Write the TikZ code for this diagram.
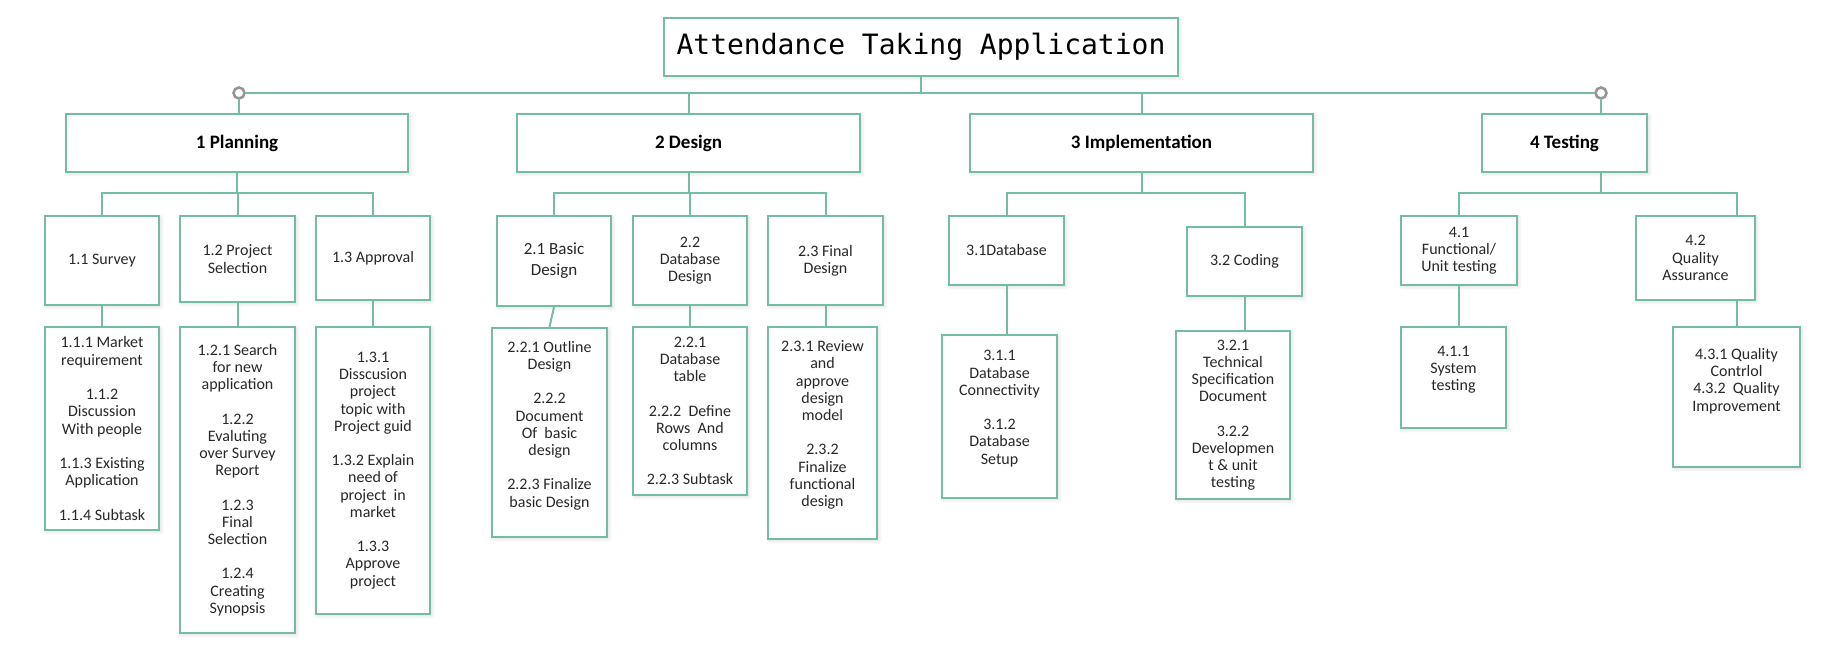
\documentclass[tikz,border=0pt]{standalone}
\usepackage{fontspec}
\setmainfont{Carlito}
\newfontfamily\titlefont{DejaVu Sans Mono}
\usepackage{xcolor}
\usetikzlibrary{positioning, calc, shadows.blur}
\definecolor{wbsline}{RGB}{115,190,163}
\definecolor{knobclr}{RGB}{150,150,150}
\definecolor{wbstext}{RGB}{40,40,40}
\tikzset{
    sz/.style n args={2}{minimum width=#1*0.5pt, minimum height=#2*0.5pt},
}

\begin{document}
\begin{tikzpicture}[
    x=0.5pt, y=-0.5pt,
    font=\fontsize{8}{8.6}\selectfont,
    % --- node styles ---
    wbsbox/.style ={draw=wbsline, line width=1.2pt, fill=white, align=center,
                    inner sep=2pt, text=wbstext,
                    blur shadow={shadow blur steps=3, shadow xshift=0.8pt,
                    shadow yshift=-0.8pt, shadow opacity=15}},
    titlebox/.style={wbsbox, text=black, font=\titlefont\fontsize{14}{16}\selectfont},
    phase/.style  ={wbsbox, text=black, font=\bfseries\fontsize{9.5}{11}\selectfont},
    task/.style   ={wbsbox},
    leaf/.style   ={wbsbox},
    lbl/.style    ={align=center, text=wbstext},
    knob/.style   ={circle, draw=knobclr, line width=1.3pt, fill=white,
                    inner sep=0pt, minimum size=5.5pt},
    % --- wire styles ---
    wire/.style   ={draw=wbsline, line width=1pt},
]
\useasboundingbox (0,0) rectangle (1826,659);

% =============== Root ===============
\node[titlebox, sz={514}{58}] (root) at (921,47) {Attendance Taking Application};

% =============== Phases ===============
\node[phase, sz={342}{58}] (b1) at (237,143)    {1 Planning};
\node[phase, sz={343}{58}] (b2) at (688.5,143)  {2 Design};
\node[phase, sz={343}{58}] (b3) at (1141.5,143) {3 Implementation};
\node[phase, sz={165}{58}] (b4) at (1564.5,143) {4 Testing};

\node[knob] (lknob) at (239,93)  {};
\node[knob] (rknob) at (1601,93) {};

% =============== Tasks ===============
\node[task, sz={114}{89}] (b11) at (102,260.5)  {1.1 Survey};
\node[task, sz={115}{86}] (b12) at (237.5,259)  {1.2 Project\\Selection};
\node[task, sz={114}{84}] (b13) at (373,258)    {1.3 Approval};
\node[task, sz={114}{90}, font=\fontsize{8.5}{10.5}\selectfont]
      (b21) at (554,261) {2.1 Basic\\Design};
\node[task, sz={114}{89}] (b22) at (690,260.5)  {2.2\\Database\\Design};
\node[task, sz={115}{89}] (b23) at (825.5,260.5){2.3 Final\\Design};
\node[task, sz={115}{69}] (b31) at (1006.5,250.5){3.1Database};
\node[task, sz={115}{69}] (b32) at (1244.5,261.5){3.2 Coding};
\node[task, sz={116}{69}] (b41) at (1459,250.5) {4.1\\Functional/\\Unit testing};
\node[task, sz={119}{84}] (b42) at (1695.5,258) {4.2\\Quality\\Assurance};

% =============== Work packages ===============
\node[leaf, sz={114}{203}] (b111) at (102,428.5)
      {1.1.1 Market\\requirement\\[8.6pt]1.1.2\\Discussion\\With people\\[8.6pt]
       1.1.3 Existing\\Application\\[8.6pt]1.1.4 Subtask};
\node[leaf, sz={115}{306}] (b121) at (237.5,480)
      {1.2.1 Search\\for new\\application\\[8.6pt]1.2.2\\Evaluting\\over Survey\\Report\\[8.6pt]
       1.2.3\\Final\\Selection\\[8.6pt]1.2.4\\Creating\\Synopsis};
\node[leaf, sz={114}{287}] (b131) at (373,470.5)
      {1.3.1\\Disscusion\\project\\topic with\\Project guid\\[8.6pt]
       1.3.2 Explain\\need of\\project~ in\\market\\[8.6pt]1.3.3\\Approve\\project};
\node[leaf, sz={115}{209}, label={[lbl, yshift=3.5pt]center:{2.2.1 Outline\\Design\\[8.6pt]
       2.2.2\\Document\\Of~ basic\\design\\[8.6pt]2.2.3 Finalize\\basic Design}}]
      (b211) at (549.5,432.5) {};
\node[leaf, sz={114}{168}] (b221) at (690,411)
      {2.2.1\\Database\\table\\[8.6pt]2.2.2~ Define\\Rows~ And\\columns\\[8.6pt]2.2.3 Subtask};
\node[leaf, sz={109}{212}, label={[lbl, yshift=4pt]center:{2.3.1 Review\\and\\approve\\design\\model\\[8.6pt]
       2.3.2\\Finalize\\functional\\design}}]
      (b231) at (822.5,433) {};
\node[leaf, sz={115}{163}, label={[lbl, yshift=4pt]center:{3.1.1\\Database\\Connectivity\\[8.6pt]
       3.1.2\\Database\\Setup}}]
      (b311) at (999.5,416.5) {};
\node[leaf, sz={114}{168}] (b321) at (1233,415)
      {3.2.1\\Technical\\Specification\\Document\\[8.6pt]3.2.2\\Developmen\\t \& unit\\testing};
\node[leaf, sz={105}{101}, label={[lbl, yshift=4pt]center:{4.1.1\\System\\testing}}]
      (b411) at (1453.5,377.5) {};
\node[leaf, sz={127}{140}, label={[lbl, yshift=8pt]center:{4.3.1 Quality\\Contrlol\\4.3.2~ Quality\\Improvement}}]
      (b421) at (1736.5,397) {};

% =============== Top wires ===============
\draw[wire] (root.south) -- (root.south |- lknob);
\draw[wire] (lknob.east) -- (rknob.west);
\draw[wire] (lknob.south) -- (lknob.south |- b1.north);
\draw[wire] (b2.north |- lknob) -- (b2.north);
\draw[wire] (b3.north |- lknob) -- (b3.north);
\draw[wire] (rknob.south) -- (rknob.south |- b4.north);

% =============== Phase to task wires ===============
\draw[wire] (b1.south) -- ++(0,20) coordinate (j1);
\draw[wire] (b11.north) |- (j1);
\draw[wire] (b13.north) |- (j1);
\draw[wire] (b12.north) -- (b12.north |- j1);

\draw[wire] (b2.south) -- ++(0,20) coordinate (j2);
\draw[wire] (b21.north) |- (j2);
\draw[wire] (b23.north) |- (j2);
\draw[wire] (b22.north) -- (b22.north |- j2);

\draw[wire] (b3.south) -- ++(0,20) coordinate (j3);
\draw[wire] (b31.north) |- (j3);
\draw[wire] (b32.north) |- (j3);

\draw[wire] (b4.south -| rknob) -- ++(0,20) coordinate (j4);
\draw[wire] (b41.north) |- (j4);
\draw[wire] (b42.north -| b421.north) |- (j4);

% =============== Task to work package wires ===============
\draw[wire] (b11.south) -- (b111.north);
\draw[wire] (b12.south) -- (b121.north);
\draw[wire] (b13.south) -- (b131.north);
\draw[wire] (b21.south) -- (b211.north);
\draw[wire] (b22.south) -- (b221.north);
\draw[wire] (b23.south) -- (b23.south |- b231.north);
\draw[wire] (b31.south) -- (b31.south |- b311.north);
\draw[wire] (b32.south) -- (b32.south |- b321.north);
\draw[wire] (b41.south) -- (b41.south |- b411.north);
\draw[wire] (b421.north) -- (b421.north |- b42.south);

\end{tikzpicture}
\end{document}
